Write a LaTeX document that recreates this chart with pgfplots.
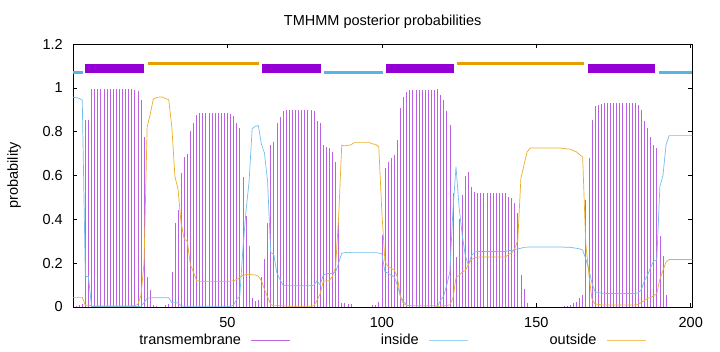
\documentclass[border=0pt]{standalone}
\usepackage{pgfplots}
\pgfplotsset{compat=1.18}
\usepackage{pgfplotstable}
\usepackage{fontspec}
\setmainfont{Liberation Sans}
\definecolor{tmc}{HTML}{9400D3}
\definecolor{inc}{HTML}{56B4E9}
\definecolor{outc}{HTML}{E69F00}

\pgfplotstableread{
x tm in out
0 0 0.957 0.044
1 0.003 0.955 0.044
2 0.008 0.952 0.044
3 0.012 0.944 0.044
4 0.853 0.140 0.007
5 0.853 0.138 0.009
6 0.993 0.003 0.005
7 0.993 0.002 0.005
8 0.993 0.002 0.005
9 0.993 0.002 0.005
10 0.993 0.002 0.005
11 0.993 0.002 0.005
12 0.993 0.002 0.005
13 0.993 0.002 0.005
14 0.993 0.002 0.005
15 0.993 0.002 0.005
16 0.993 0.002 0.005
17 0.993 0.002 0.005
18 0.993 0.002 0.005
19 0.993 0.002 0.005
20 0.990 0.002 0.006
21 0.985 0.002 0.012
22 0.944 0.003 0.053
23 0.777 0.020 0.200
24 0.138 0.040 0.820
25 0.078 0.042 0.880
26 0.010 0.042 0.948
27 0.003 0.042 0.955
28 0.002 0.042 0.958
29 0.002 0.042 0.958
30 0.008 0.042 0.950
31 0.012 0.042 0.946
32 0.161 0.020 0.820
33 0.385 0.020 0.595
34 0.443 0.018 0.539
35 0.613 0.005 0.382
36 0.686 0.003 0.311
37 0.697 0.003 0.300
38 0.804 0.003 0.193
39 0.838 0.003 0.159
40 0.876 0.003 0.121
41 0.883 0.003 0.117
42 0.883 0.003 0.117
43 0.883 0.003 0.117
44 0.883 0.003 0.117
45 0.883 0.003 0.117
46 0.883 0.003 0.117
47 0.883 0.003 0.117
48 0.883 0.003 0.117
49 0.883 0.003 0.117
50 0.883 0.003 0.117
51 0.880 0.002 0.118
52 0.871 0.009 0.120
53 0.841 0.034 0.125
54 0.815 0.050 0.135
55 0.592 0.263 0.145
56 0.415 0.437 0.148
57 0.280 0.571 0.149
58 0.040 0.813 0.147
59 0.029 0.825 0.146
60 0.032 0.828 0.140
61 0.137 0.743 0.120
62 0.219 0.701 0.080
63 0.382 0.573 0.045
64 0.739 0.249 0.012
65 0.754 0.240 0.006
66 0.838 0.156 0.006
67 0.868 0.126 0.006
68 0.894 0.100 0.006
69 0.900 0.097 0.003
70 0.900 0.097 0.003
71 0.900 0.097 0.003
72 0.900 0.097 0.003
73 0.900 0.097 0.003
74 0.900 0.097 0.003
75 0.900 0.097 0.003
76 0.900 0.097 0.003
77 0.900 0.097 0.003
78 0.894 0.100 0.006
79 0.850 0.120 0.030
80 0.841 0.100 0.059
81 0.739 0.145 0.116
82 0.728 0.152 0.120
83 0.727 0.153 0.120
84 0.707 0.153 0.140
85 0.660 0.160 0.180
86 0.389 0.200 0.411
87 0.017 0.245 0.738
88 0.017 0.248 0.735
89 0.012 0.250 0.738
90 0.012 0.248 0.740
91 0.002 0.248 0.750
92 0.002 0.248 0.750
93 0.002 0.248 0.750
94 0.002 0.248 0.750
95 0.002 0.248 0.750
96 0.002 0.248 0.750
97 0.008 0.248 0.744
98 0.010 0.248 0.742
99 0.024 0.246 0.730
100 0.328 0.242 0.430
101 0.633 0.160 0.207
102 0.660 0.155 0.185
103 0.678 0.145 0.177
104 0.693 0.138 0.169
105 0.762 0.100 0.138
106 0.906 0.050 0.044
107 0.960 0.025 0.015
108 0.982 0.010 0.008
109 0.990 0.005 0.005
110 0.990 0.005 0.005
111 0.990 0.005 0.005
112 0.990 0.005 0.005
113 0.990 0.005 0.005
114 0.990 0.005 0.005
115 0.990 0.005 0.005
116 0.990 0.005 0.005
117 0.990 0.005 0.005
118 0.993 0.004 0.003
119 0.967 0.030 0.003
120 0.944 0.050 0.006
121 0.894 0.100 0.006
122 0.830 0.160 0.010
123 0.519 0.441 0.040
124 0.227 0.640 0.133
125 0.400 0.455 0.145
126 0.511 0.330 0.159
127 0.598 0.235 0.167
128 0.616 0.190 0.194
129 0.549 0.235 0.216
130 0.526 0.250 0.224
131 0.519 0.253 0.228
132 0.519 0.253 0.228
133 0.519 0.253 0.228
134 0.519 0.253 0.228
135 0.519 0.253 0.228
136 0.519 0.253 0.228
137 0.519 0.253 0.228
138 0.519 0.253 0.228
139 0.519 0.253 0.228
140 0.519 0.253 0.228
141 0.503 0.257 0.240
142 0.496 0.258 0.246
143 0.473 0.262 0.265
144 0.430 0.265 0.305
145 0.146 0.268 0.586
146 0.080 0.272 0.648
147 0.020 0.273 0.707
148 0.001 0.274 0.725
149 0.001 0.274 0.725
150 0.001 0.274 0.725
151 0.001 0.274 0.725
152 0.001 0.274 0.725
153 0.001 0.274 0.725
154 0.001 0.274 0.725
155 0.001 0.274 0.725
156 0.001 0.274 0.725
157 0.001 0.274 0.725
158 0.001 0.274 0.725
159 0.004 0.273 0.723
160 0.006 0.273 0.721
161 0.008 0.272 0.720
162 0.017 0.270 0.713
163 0.024 0.268 0.708
164 0.040 0.265 0.695
165 0.055 0.260 0.685
166 0.488 0.220 0.292
167 0.678 0.170 0.152
168 0.853 0.110 0.037
169 0.917 0.070 0.013
170 0.922 0.066 0.012
171 0.926 0.064 0.010
172 0.929 0.062 0.009
173 0.929 0.062 0.009
174 0.929 0.062 0.009
175 0.929 0.062 0.009
176 0.929 0.062 0.009
177 0.929 0.062 0.009
178 0.929 0.062 0.009
179 0.929 0.062 0.009
180 0.929 0.062 0.009
181 0.929 0.062 0.009
182 0.929 0.062 0.009
183 0.922 0.065 0.013
184 0.899 0.080 0.021
185 0.850 0.120 0.030
186 0.815 0.145 0.040
187 0.777 0.180 0.043
188 0.739 0.210 0.051
189 0.724 0.215 0.061
190 0.324 0.550 0.126
191 0.233 0.600 0.167
192 0.055 0.740 0.205
193 0.001 0.782 0.217
194 0.001 0.782 0.217
195 0.001 0.782 0.217
196 0.001 0.782 0.217
197 0.001 0.782 0.217
198 0.001 0.782 0.217
199 0.001 0.782 0.217
200 0.001 0.782 0.217
200.5 0 0.782 0.217
}\data

\begin{document}
\fontsize{14.5}{17}\selectfont
\begin{tikzpicture}
\path[use as bounding box] (-73pt,-45pt) rectangle (647pt,307pt);
\begin{axis}[
  at={(0pt,0pt)}, anchor=south west,
  scale only axis, width=619.3pt, height=263pt,
  xmin=0, xmax=200.5, ymin=0, ymax=1.2,
  enlargelimits=false,
  xtick={50,100,150,200},
  ytick={0,0.2,0.4,0.6,0.8,1,1.2},
  yticklabels={0,0.2,0.4,0.6,0.8,1,1.2},
  scaled ticks=false,
  /pgf/number format/assume math mode=true,
  tick align=inside,
  major tick length=4pt,
  tick style={black, line width=0.6pt},
  axis line style={black, line width=0.8pt},
  xticklabel style={inner sep=0pt, anchor=north, yshift=-10pt},
  yticklabel style={inner sep=0pt, anchor=east, xshift=-10pt},
  title={TMHMM posterior probabilities},
  every axis title/.style={at={(axis description cs:0.5,1)}, anchor=base, yshift=18.5pt},
  ylabel={probability},
  every axis y label/.style={at={(axis description cs:-0.095,0.5)}, rotate=90, anchor=center},
  legend columns=3,
  legend plot pos=right,
  legend image code/.code={\draw[#1] (0pt,0pt) -- (39pt,0pt);},
  legend style={at={(axis description cs:0.0985,-0.1255)}, anchor=west,
    draw=none, fill=none, inner sep=0pt, outer sep=0pt,
    /tikz/every odd column/.append style={text width=105pt, align=right, column sep=8pt},
    /tikz/every even column/.append style={column sep=20.8pt}},
]
% transmembrane impulses
\addplot[ycomb, draw=tmc!62, line width=0.65pt, mark=none, forget plot] table[x=x, y=tm]{\data};
% inside / outside probabilities
\addplot[draw=inc!85, line width=0.7pt, mark=none, forget plot] table[x=x, y=in]{\data};
\addplot[draw=outc!85, line width=0.7pt, mark=none, forget plot] table[x=x, y=out]{\data};
% topology bars
\addplot[draw=inc, line width=2.5pt, forget plot] coordinates {(0,1.07) (3.2,1.07)};
\addplot[draw=tmc, line width=9.5pt, forget plot] coordinates {(4,1.089) (23,1.089)};
\addplot[draw=outc, line width=2.5pt, forget plot] coordinates {(24.2,1.11) (60.3,1.11)};
\addplot[draw=tmc, line width=9.5pt, forget plot] coordinates {(61.3,1.089) (80.3,1.089)};
\addplot[draw=inc, line width=2.5pt, forget plot] coordinates {(81.4,1.07) (100.4,1.07)};
\addplot[draw=tmc, line width=9.5pt, forget plot] coordinates {(101.4,1.089) (123.4,1.089)};
\addplot[draw=outc, line width=2.5pt, forget plot] coordinates {(124.4,1.11) (165.4,1.11)};
\addplot[draw=tmc, line width=9.5pt, forget plot] coordinates {(166.6,1.089) (188.5,1.089)};
\addplot[draw=inc, line width=2.5pt, forget plot] coordinates {(189.7,1.07) (200.5,1.07)};
\addlegendimage{draw=tmc!60, line width=0.9pt}
\addlegendentry{transmembrane}
\addlegendimage{draw=inc!60, line width=0.9pt}
\addlegendentry{inside}
\addlegendimage{draw=outc!60, line width=0.9pt}
\addlegendentry{outside}
\end{axis}
\end{tikzpicture}
\end{document}
